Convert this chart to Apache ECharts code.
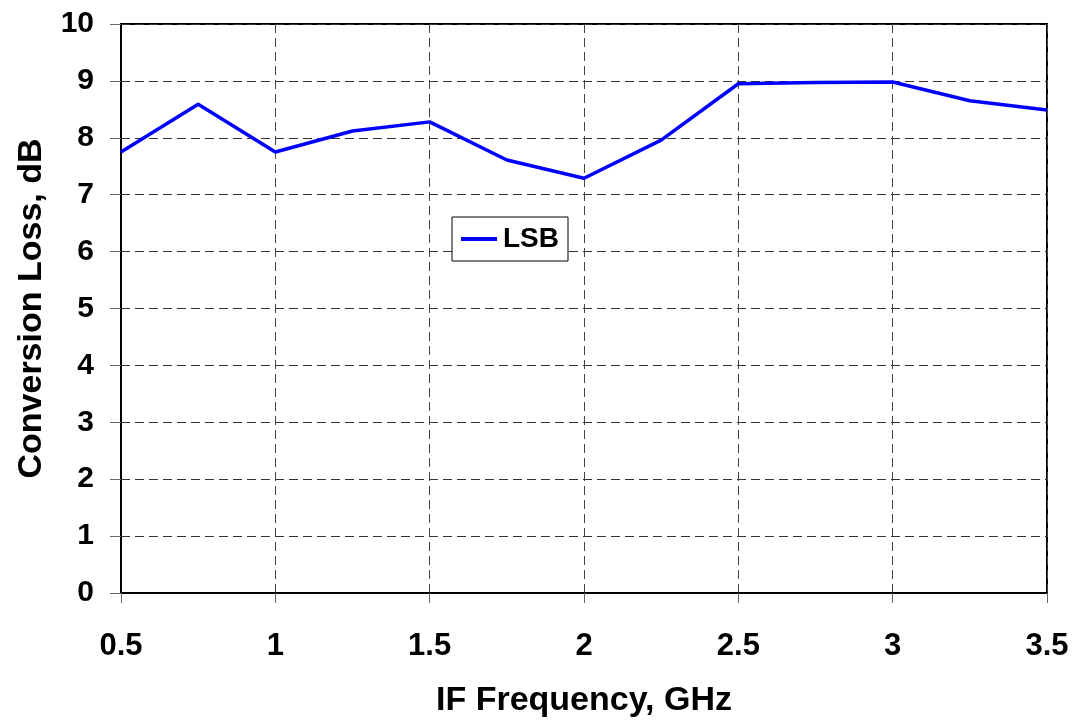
<!DOCTYPE html>
<html>
<head>
<meta charset="utf-8">
<script src="https://cdn.jsdelivr.net/npm/echarts@6/dist/echarts.min.js"></script>
<style>
  html, body { margin: 0; padding: 0; background: #fff; }
  #chart-box { width: 1078px; height: 720px; }
</style>
</head>
<body>
<div id="chart-box"></div>
<script>
// IF frequency (GHz) and LSB conversion loss (dB)
var freqs = [0.5, 0.75, 1.0, 1.25, 1.5, 1.75, 2.0, 2.25, 2.5, 2.75, 3.0, 3.25, 3.5];
var lsbLoss = [7.75, 8.59, 7.75, 8.12, 8.28, 7.61, 7.29, 7.96, 8.95, 8.97, 8.98, 8.65, 8.49];

var fontName = '"Liberation Sans", Arial, sans-serif';

var chartDom = document.getElementById('chart-box');
var lossChart = echarts.init(chartDom);

var lossOption = {
  animation: false,
  legend: {
    left: 452,
    top: 217,
    padding: [8, 9, 8, 9],
    backgroundColor: '#fff',
    borderColor: '#000',
    borderWidth: 1,
    borderRadius: 0,
    itemWidth: 36,
    itemHeight: 4,
    icon: 'rect',
    textStyle: { fontFamily: fontName, fontWeight: 'bold', fontSize: 28, color: '#000', padding: [0, 0, 0, 1] }
  },
  grid: {
    left: 121,
    right: 31,
    top: 24,
    bottom: 127,
    outerBoundsMode: 'none',
    containLabel: false,
    show: true,
    borderColor: '#000',
    borderWidth: 2,
    backgroundColor: '#fff'
  },
  xAxis: {
    type: 'value',
    min: 0.5,
    max: 3.5,
    interval: 0.5,
    name: 'IF Frequency, GHz',
    nameLocation: 'middle',
    nameGap: 91,
    nameTextStyle: { fontFamily: fontName, fontWeight: 'bold', fontSize: 34, color: '#000' },
    axisLine: { show: true, lineStyle: { color: '#000', width: 2 } },
    axisTick: { show: true, inside: false, length: 10, lineStyle: { color: '#666', width: 1 } },
    axisLabel: {
      margin: 38,
      fontFamily: fontName, fontWeight: 'bold', fontSize: 31, color: '#000'
    },
    splitLine: { show: true, lineStyle: { color: '#444', type: [9, 5], width: 1 } }
  },
  yAxis: {
    type: 'value',
    min: 0,
    max: 10,
    interval: 1,
    name: 'Conversion Loss, dB',
    nameLocation: 'middle',
    nameGap: 72,
    nameTextStyle: { fontFamily: fontName, fontWeight: 'bold', fontSize: 34, color: '#000' },
    axisLine: { show: true, lineStyle: { color: '#000', width: 2 } },
    axisTick: { show: true, inside: false, length: 11, lineStyle: { color: '#666', width: 1 } },
    axisLabel: {
      margin: 27,
      fontFamily: fontName, fontWeight: 'bold', fontSize: 30, color: '#000'
    },
    splitLine: { show: true, lineStyle: { color: '#333', type: [9, 5], width: 1 } }
  },
  series: [
    {
      name: 'LSB',
      type: 'line',
      data: freqs.map(function (f, i) { return [f, lsbLoss[i]]; }),
      showSymbol: false,
      symbol: 'none',
      lineStyle: { color: '#0000ff', width: 3.5 },
      itemStyle: { color: '#0000ff' }
    }
  ]
};

lossOption && lossChart.setOption(lossOption);
</script>
</body>
</html>
